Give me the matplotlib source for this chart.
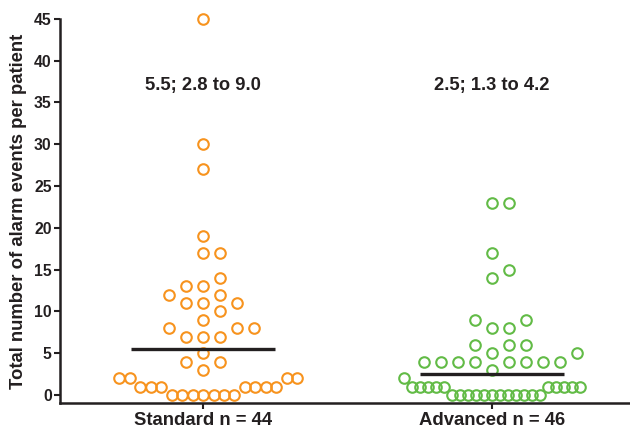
import numpy as np
import matplotlib.pyplot as plt

plt.rcParams['font.family'] = ['Liberation Sans', 'DejaVu Sans']
plt.rcParams['font.weight'] = 'bold'

# data
groups = ["Standard n = 44", "Advanced n = 46"]
standard = [0, 0, 0, 0, 0, 0, 0,
            1, 1, 1, 1, 1, 1, 1,
            2, 2, 2, 2, 3, 4, 4, 5,
            7, 7, 7, 8, 8, 8, 9, 10,
            11, 11, 11, 12, 12, 13, 13, 14,
            17, 17, 19, 27, 30, 45]
advanced = [0, 0, 0, 0, 0, 0, 0, 0, 0, 0, 0, 0,
            1, 1, 1, 1, 1, 1, 1, 1, 1, 1,
            2, 3, 4, 4, 4, 4, 4, 4, 4, 4,
            5, 5, 6, 6, 6, 8, 8, 9, 9,
            14, 15, 17, 23, 23]
medians = [5.5, 2.5]
stats = ["5.5; 2.8 to 9.0", "2.5; 1.3 to 4.2"]

colors = ["#F7931E", "#62BB46"]
ink = "#231F20"

# pixel scale of the axes (used only for the swarm layout)
XPX = 289.0
YPX = 8.356


def swarm(values, wide, narrow, narrow_max):
    values = np.asarray(values, dtype=float)
    order = np.argsort(values, kind="stable")
    placed = []
    xs = np.zeros(len(values))
    cands = [0.0]
    for k in range(1, 400):
        cands += [k * 0.5, -k * 0.5]
    for i in order:
        v = values[i]
        band = v <= narrow_max
        w = narrow if band else wide
        y = v * YPX
        for c in cands:
            ok = True
            for px, py, pw, pb in placed:
                near = (band and pb) or abs(y - py) < 12
                if near and abs(c - px) < (w + pw) / 2 - 1e-6:
                    ok = False
                    break
            if ok:
                break
        placed.append((c, y, w, band))
        xs[i] = c
    return xs / XPX


fig = plt.figure(figsize=(6.3, 4.3), dpi=100)
ax = fig.add_axes([60 / 630, 26.6 / 430, 570 / 630, 384.6 / 430])

layout = [(standard, 17, 10.5, 2), (advanced, 17, 8.0, 2)]
for i, (vals, wide, narrow, nmax) in enumerate(layout):
    x = i + swarm(vals, wide, narrow, nmax)
    ax.plot(x, vals, "o", mfc="none", mec=colors[i], ms=7.6, mew=1.5,
            clip_on=False, zorder=3)
    ax.plot([i - 0.25, i + 0.25], [medians[i], medians[i]], color=ink,
            lw=2.4, solid_capstyle="butt", zorder=4)
    ax.text(i, 37, stats[i], ha="center", va="center", fontsize=13.2,
            fontweight="bold", color=ink)

ax.set_xlim(-0.495, 1.478)
ax.set_ylim(-1, 45)
ax.set_xticks([0, 1])
ax.set_xticklabels(groups, fontsize=13.3, fontweight="bold", color=ink)
ax.set_yticks(np.arange(0, 46, 5))
ax.tick_params(axis="y", labelsize=11.3, colors=ink, width=1.5, length=4, pad=2)
ax.tick_params(axis="x", colors=ink, width=1.5, length=4, pad=2)
for lab in ax.get_yticklabels():
    lab.set_fontweight("bold")
ax.set_ylabel("Total number of alarm events per patient", fontsize=13.3,
              fontweight="bold", color=ink, labelpad=5)

ax.spines["top"].set_visible(False)
ax.spines["right"].set_visible(False)
for s in ["left", "bottom"]:
    ax.spines[s].set_linewidth(1.8)
    ax.spines[s].set_color(ink)

fig.savefig("out.png", dpi=100)
